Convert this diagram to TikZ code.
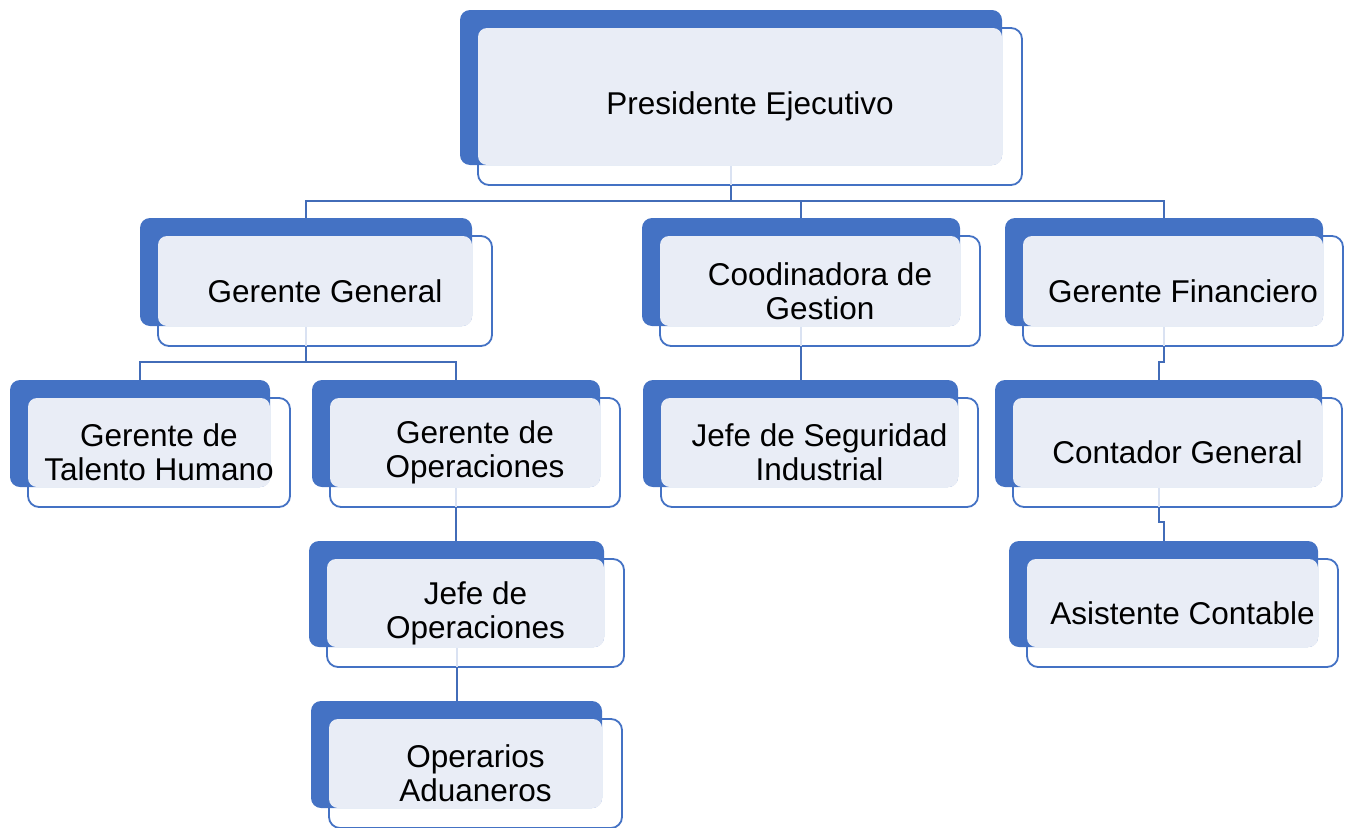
\documentclass[tikz,border=0pt]{standalone}
\usepackage{fontspec}
\setmainfont{Liberation Sans}
\definecolor{bluebox}{RGB}{68,114,196}
\definecolor{lightbox}{RGB}{233,237,246}
\definecolor{connblue}{RGB}{66,108,184}
\definecolor{ghostline}{RGB}{218,226,242}
\newcommand\orgbox[6]{%
  \node[frontbox, minimum width={#4-#2+2}, minimum height={#5-#3+2}] (#1o) at ({(#2+#4)/2+19},{(#3+#5)/2+19}) {};
  \node[backbox, minimum width={#4-#2}, minimum height={#5-#3}] (#1b) at ({(#2+#4)/2},{(#3+#5)/2}) {};
  \fill[lightbox, rounded corners=9pt] ({#2+18},{#3+18}) rectangle (#4,#5);
  \node[boxtext] (#1) at (#1o.center) {#6};
}
\begin{document}
\begin{tikzpicture}[x=1pt,y=-1pt,
  backbox/.style={fill=bluebox, rounded corners=10pt, inner sep=0pt, outer sep=0pt},
  frontbox/.style={draw=bluebox, fill=white, line width=1.8pt, rounded corners=11pt, inner sep=0pt, outer sep=0pt},
  boxtext/.style={align=center, font=\fontsize{31.5}{34}\selectfont, text=black, inner sep=0pt},
  conn/.style={draw=connblue, line width=2pt},
  ghost/.style={draw=ghostline, line width=2pt}]
\useasboundingbox (0,0) rectangle (1348,827);
\orgbox{pres}{460}{10}{1002}{165}{Presidente Ejecutivo}
\orgbox{gg}{140}{218}{472}{326}{Gerente General}
\orgbox{cg}{642}{218}{960}{326}{Coodinadora de\\Gestion}
\orgbox{gf}{1005}{218}{1323}{326}{Gerente Financiero}
\orgbox{th}{10}{380}{270}{487}{Gerente de\\Talento Humano}
\orgbox{go}{312}{380}{600}{487}{Gerente de\\Operaciones}
\orgbox{js}{643}{380}{958}{487}{Jefe de Seguridad\\Industrial}
\orgbox{co}{995}{380}{1322}{487}{Contador General}
\orgbox{jo}{309}{541}{604}{647}{Jefe de\\Operaciones}
\orgbox{ac}{1009}{541}{1318}{647}{Asistente Contable}
\orgbox{oa}{311}{701}{602}{808}{Operarios\\Aduaneros}
% faint connector traces inside the boxes
\foreach \n in {pres,gg,cg,gf,co,go,jo}
  \draw[ghost] ([yshift=-1pt]\n b.south) -- (\n b.south |- \n o.south);
% connectors
\draw[conn] (presb.south |- preso.south) -- ++(0,16) -| (ggb.north);
\draw[conn] (presb.south |- preso.south) -- ++(0,16) -| (cgb.north);
\draw[conn] (presb.south |- preso.south) -- ++(0,16) -| (gfb.north);
\draw[conn] (ggb.south |- ggo.south) -- ++(0,16) -| (thb.north);
\draw[conn] (ggb.south |- ggo.south) -- ++(0,16) -| (gob.north);
\draw[conn] (cgb.south |- cgo.south) -- (cgb.south |- jsb.north);
\draw[conn] (gfb.south |- gfo.south) -- ++(0,16) -| (cob.north);
\draw[conn] (cob.south |- coo.south) -- ++(0,15) -| (acb.north);
\draw[conn] (gob.south |- goo.south) -- (gob.south |- job.north);
\draw[conn] (job.south |- joo.south) -- (job.south |- oab.north);
\end{tikzpicture}
\end{document}
